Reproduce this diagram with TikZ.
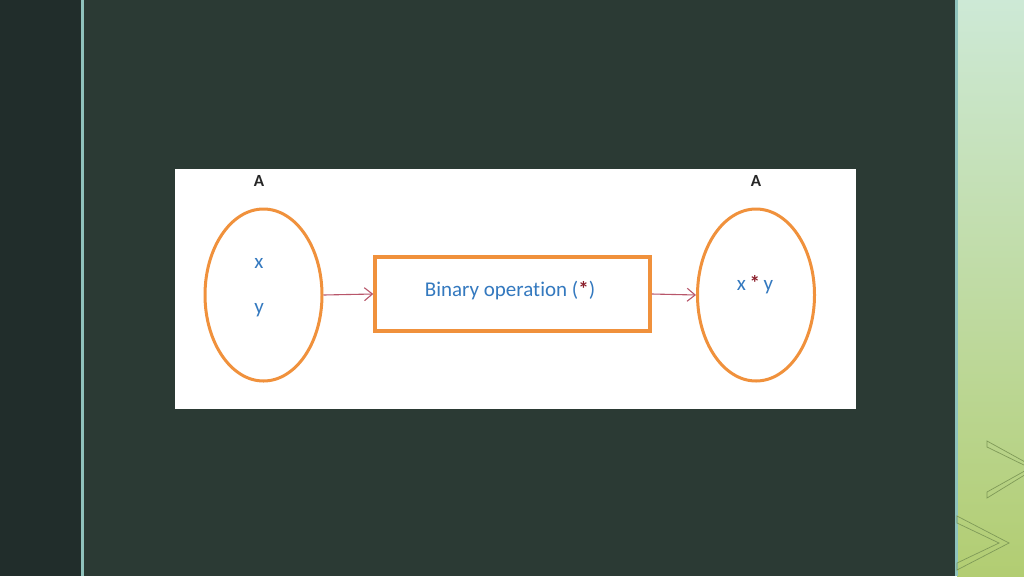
\documentclass[tikz,border=0pt]{standalone}
\usepackage{fontspec}
\setmainfont[Ligatures={NoCommon}]{Carlito}
\usetikzlibrary{shapes.geometric,arrows.meta}
\definecolor{slide}{HTML}{2B3A34}
\definecolor{strip}{HTML}{212D2B}
\definecolor{rule}{HTML}{8FC2BC}
\definecolor{setline}{HTML}{F0913C}
\definecolor{labelblue}{HTML}{3479BF}
\definecolor{maplink}{HTML}{B8566A}
\definecolor{starred}{HTML}{8B1E2A}
\definecolor{chevron}{HTML}{7F9A58}
\definecolor{greentop}{HTML}{CDE9D6}
\definecolor{greenmid}{HTML}{AADA9A}
\definecolor{greenbot}{HTML}{B2CD72}
\tikzset{
  setnode/.style={ellipse,draw=setline,line width=3pt,minimum width=117pt,minimum height=172pt,inner sep=0pt},
  opbox/.style={rectangle,draw=setline,line width=3.5pt,minimum width=275pt,minimum height=74pt,inner sep=0pt},
  elem/.style={text=labelblue,font=\fontsize{21}{21}\selectfont,inner sep=0pt},
  setname/.style={text=black!85,font=\fontsize{17}{17}\selectfont\bfseries,inner sep=0pt},
  maparrow/.style={draw=maplink,line width=1.1pt,-{Straight Barb[length=8pt,width=13pt]}}
}
\newcommand{\opstar}{{\color{starred}\bfseries*}}
\begin{document}
\begin{tikzpicture}[x=1pt,y=-1pt]
        % slide background with its two side strips
        \fill[slide] (0,0) rectangle (1024,576);
        \useasboundingbox (0,0) rectangle (1024,576);
        \fill[strip] (0,0) rectangle (81,576);
        \fill[rule] (81,0) rectangle (84,576);
        \shade[top color=greentop,middle color=greenmid,bottom color=greenbot] (957,0) rectangle (1024,576);
        \fill[rule] (955,0) rectangle (958,576);
        \draw[chevron,line width=0.7pt] (987,447) -- (1030,468) -- (987,492) -- (987,498) -- (1036,468) -- (987,441) -- cycle;
        \draw[chevron,line width=0.7pt] (957,516) -- (1009,543) -- (957,570) -- (957,563) -- (999,543) -- (957,523) -- cycle;
        % white panel holding the diagram
        \fill[white] (175,169) rectangle (856,409);
        % the two sets and the operation box
        \node[setnode] (lset) at (263.5,295) {};
        \node[setnode] (rset) at (756,295) {};
        \node[opbox] (op) at (512.5,294) {};
        \node[setname] (lname) at (259,181) {A};
        \node[setname] (rname) at (756,181) {A};
        \node[elem] (ex) at (259,263) {x};
        \node[elem] (ey) at (259,310) {y};
        \node[elem] (opname) at (510,291) {Binary operation (\opstar)};
        \node[elem] (result) at (755,285) {x\,\opstar\,y};
        % mapping arrows
        \draw[maparrow] (lset.east) -- (op.west);
        \draw[maparrow] (op.east) -- (rset.west);
      \end{tikzpicture}
\end{document}
